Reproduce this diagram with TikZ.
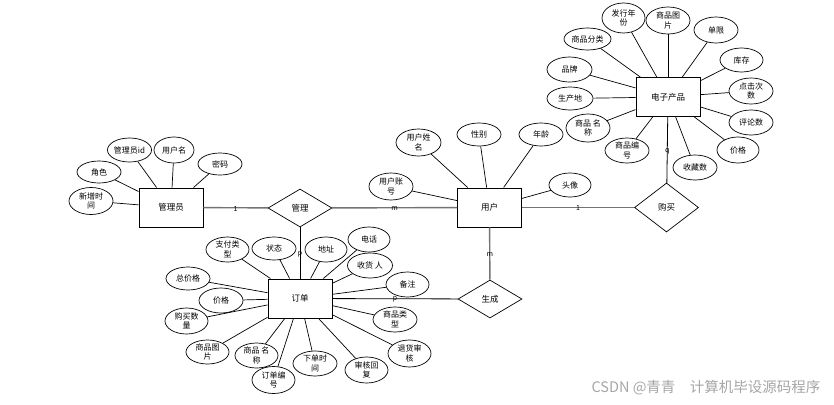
\documentclass[tikz,border=0pt]{standalone}
\usepackage{fontspec}
\setmainfont{Noto Sans CJK SC}
\usetikzlibrary{positioning,shapes.geometric}
\tikzset{
  entity/.style={draw, line width=0.95pt, fill=white, minimum width=64pt, minimum height=39pt, inner sep=0pt, font=\fontsize{8.5}{10}\selectfont},
  attr/.style={draw, ellipse, line width=0.7pt, fill=white, minimum width=44pt, minimum height=25pt, inner sep=0pt, align=center, font=\fontsize{8}{9.5}\selectfont},
  relbox/.style={draw, diamond, line width=0.7pt, fill=white, minimum width=64pt, minimum height=38pt, inner sep=0pt, font=\fontsize{8.5}{10}\selectfont},
  relline/.style={draw=black!55, line width=1.4pt},
  relline2/.style={draw=black, line width=0.8pt},
  attline/.style={draw=black, line width=0.7pt},
  card/.style={font=\fontsize{7}{7}\selectfont, inner sep=0pt, yshift=-1pt},
  wmark/.style={text=black!35, font=\fontsize{14.5}{16}\selectfont}
}
\begin{document}
\begin{tikzpicture}[x=1pt, y=-1pt]
  \useasboundingbox (0,0) rectangle (834,404);
  \node[entity] (mgr) at (171,207.5) {管理员};
  \node[entity] (user) at (489.5,207.5) {用户};
  \node[entity] (goods) at (668,97) {电子产品};
  \node[entity] (order) at (300,298.5) {订单};
  \node[relbox] (manage) at (300,208) {管理};
  \node[relbox, minimum height=49pt] (buy) at (666.5,207.5) {购买};
  \node[relbox] (gen) at (490,299) {生成};
  \draw[relline] (mgr) -- node[card] {1} (manage);
  \draw[relline] (manage) -- node[card] {m} (user);
  \draw[relline] (user) -- node[card] {1} (buy);
  \draw[relline2] (buy) -- node[card] {q} (goods);
  \draw[relline2] (manage) -- node[card] {p} (order);
  \draw[relline] (user) -- node[card] {m} (gen);
  \draw[relline2] (gen) -- node[card] {p} (order);

  \node[attr, minimum width=39pt, minimum height=24pt] (mgrid) at (129.5,150) {管理员id};
  \node[attr, minimum width=40pt, minimum height=26pt] (mgrname) at (174,150) {用户名};
  \node[attr, minimum height=22pt] (mgrpwd) at (220,164) {密码};
  \node[attr, minimum height=22pt] (mgrrole) at (99,172) {角色};
  \node[attr, minimum height=27pt] (mgrtime) at (91,201) {新增时\\间};
  \draw[attline] (mgrid) -- (mgr);
  \draw[attline] (mgrname) -- (mgr);
  \draw[attline] (mgrpwd) -- (mgr);
  \draw[attline] (mgrrole) -- (mgr);
  \draw[attline] (mgrtime) -- (mgr);

  \node[attr, minimum width=45pt, minimum height=27pt] (uname) at (418.5,142.5) {用户姓\\名};
  \node[attr, minimum height=23pt] (usex) at (479,134.5) {性别};
  \node[attr, minimum height=23pt] (uage) at (541,134.5) {年龄};
  \node[attr, minimum height=27pt] (uacct) at (391,186.5) {用户账\\号};
  \node[attr, minimum width=42pt, minimum height=24pt] (uavatar) at (570,185) {头像};
  \draw[attline] (uname) -- (user);
  \draw[attline] (usex) -- (user);
  \draw[attline] (uage) -- (user);
  \draw[attline] (uacct) -- (user);
  \draw[attline] (uavatar) -- (user);

  \node[attr, minimum width=43pt, minimum height=30pt] (gyear) at (623.5,18) {发行年\\份};
  \node[attr, minimum height=27pt] (gpic) at (668,20.5) {商品图\\片};
  \node[attr, minimum height=26pt] (glimit) at (716,30) {单限};
  \node[attr, minimum width=47pt, minimum height=22pt] (gcat) at (587.5,39) {商品分类};
  \node[attr, minimum width=43pt, minimum height=24pt] (gstock) at (741.5,60) {库存};
  \node[attr, minimum width=45pt] (gbrand) at (569.5,69.5) {品牌};
  \node[attr, minimum height=26pt] (gclick) at (751,91) {点击次\\数};
  \node[attr, minimum width=46pt, minimum height=23pt] (gorigin) at (570,98.5) {生产地};
  \node[attr] (gcomment) at (751,122.5) {评论数};
  \node[attr, minimum height=28pt] (gname) at (588,128) {商品 名\\称};
  \node[attr, minimum width=42pt, minimum height=26pt] (gprice) at (738,150) {价格};
  \node[attr] (gno) at (627,150.5) {商品编\\号};
  \node[attr] (gfav) at (695,167.5) {收藏数};
  \draw[attline] (gyear) -- (goods);
  \draw[attline] (gpic) -- (goods);
  \draw[attline] (glimit) -- (goods);
  \draw[attline] (gcat) -- (goods);
  \draw[attline] (gstock) -- (goods);
  \draw[attline] (gbrand) -- (goods);
  \draw[attline] (gclick) -- (goods);
  \draw[attline] (gorigin) -- (goods);
  \draw[attline] (gcomment) -- (goods);
  \draw[attline] (gname) -- (goods);
  \draw[attline] (gprice) -- (goods);
  \draw[attline] (gno) -- (goods);
  \draw[attline] (gfav) -- (goods);

  \node[attr, minimum width=43pt] (ordpay) at (227.5,249.5) {支付类\\型};
  \node[attr, minimum height=23pt] (ordstate) at (274,248.5) {状态};
  \node[attr, minimum width=42pt] (ordaddr) at (326,249.5) {地址};
  \node[attr, minimum width=42pt] (ordtel) at (369,239.5) {电话};
  \node[attr, minimum width=45pt] (ordrecv) at (370,265.5) {收货 人};
  \node[attr, minimum height=23pt] (ordtotal) at (188,278.5) {总价格};
  \node[attr, minimum width=43pt] (ordnote) at (407.5,284.5) {备注};
  \node[attr] (ordprice) at (221,300.5) {价格};
  \node[attr, minimum width=43pt, minimum height=26pt] (ordqty) at (186.5,321) {购买数\\量};
  \node[attr] (ordtype) at (395,319.5) {商品类\\型};
  \node[attr, minimum width=43pt, minimum height=24pt] (ordpic) at (207.5,352) {商品图\\片};
  \node[attr, minimum width=43pt] (ordname) at (256.5,355.5) {商品 名\\称};
  \node[attr] (ordtime) at (315,363.5) {下单时\\间};
  \node[attr, minimum width=43pt, minimum height=26pt] (ordreply) at (366.5,370) {审核回\\复};
  \node[attr, minimum width=43pt, minimum height=27pt] (ordreturn) at (409.5,353.5) {退货审\\核};
  \node[attr, minimum width=43pt, minimum height=27pt] (ordno) at (273.5,380) {订单编\\号};
  \draw[attline] (ordpay) -- (order);
  \draw[attline] (ordstate) -- (order);
  \draw[attline] (ordaddr) -- (order);
  \draw[attline] (ordtel) -- (order);
  \draw[attline] (ordrecv) -- (order);
  \draw[attline] (ordtotal) -- (order);
  \draw[attline] (ordnote) -- (order);
  \draw[attline] (ordprice) -- (order);
  \draw[attline] (ordqty) -- (order);
  \draw[attline] (ordtype) -- (order);
  \draw[attline] (ordpic) -- (order);
  \draw[attline] (ordname) -- (order);
  \draw[attline] (ordtime) -- (order);
  \draw[attline] (ordreply) -- (order);
  \draw[attline] (ordreturn) -- (order);
  \draw[attline] (ordno) -- (order);

  \node[wmark] (mark) at (706,388) {CSDN @青青\quad 计算机毕设源码程序};
\end{tikzpicture}
\end{document}
